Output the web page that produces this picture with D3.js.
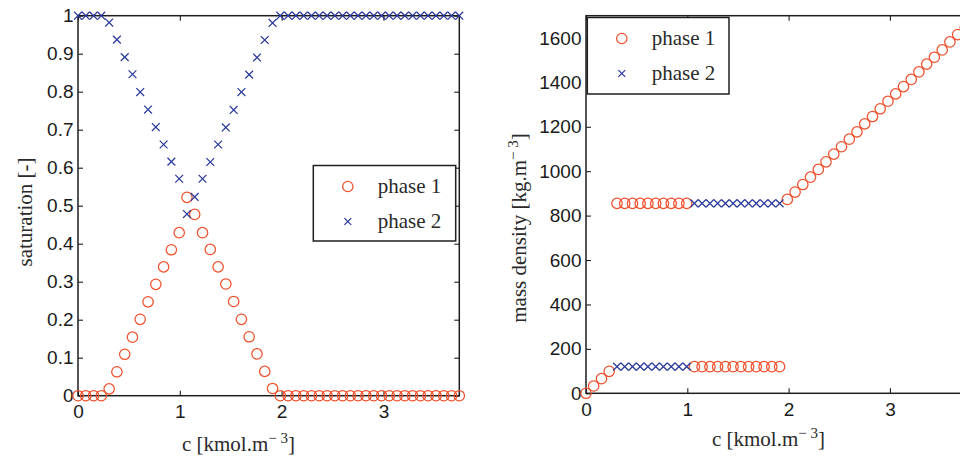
<!DOCTYPE html>
<html><head><meta charset="utf-8">
<script src="https://cdn.jsdelivr.net/npm/d3@7"></script>
<style>
html,body{margin:0;padding:0;background:#fff;}
svg{display:block;}
.tick text{font-family:"Liberation Sans",Arial,sans-serif;font-size:19px;fill:#1a1a1a;}
.lab{font-family:"Liberation Serif","Times New Roman",serif;font-size:21px;fill:#2a2a2a;}
</style></head>
<body>
<svg id="chart" width="960" height="460"></svg>
<script>
// concentration c [kmol.m^-3]
const cValues = [0,0.076,0.153,0.229,0.306,0.382,0.459,0.535,0.611,0.688,0.764,0.841,0.917,0.994,1.070,1.146,1.223,1.299,1.376,1.452,1.529,1.605,1.681,1.758,1.834,1.911,1.987,2.064,2.140,2.216,2.293,2.369,2.446,2.522,2.599,2.675,2.751,2.828,2.904,2.981,3.057,3.134,3.210,3.286,3.363,3.439,3.516,3.592,3.669,3.745];
// saturation [-]
const satPhase1 = [0,0,0,0,0.018,0.063,0.109,0.154,0.201,0.247,0.293,0.339,0.384,0.429,0.522,0.477,0.429,0.385,0.339,0.294,0.248,0.201,0.155,0.110,0.064,0.019,0,0,0,0,0,0,0,0,0,0,0,0,0,0,0,0,0,0,0,0,0,0,0,0];
const satPhase2 = [1,1,1,1,0.982,0.937,0.891,0.846,0.799,0.753,0.707,0.661,0.616,0.571,0.478,0.523,0.571,0.615,0.661,0.706,0.752,0.799,0.845,0.890,0.936,0.981,1,1,1,1,1,1,1,1,1,1,1,1,1,1,1,1,1,1,1,1,1,1,1,1];
// mass density [kg.m^-3]
const rhoPhase1 = [0,33,66,99,855,855,855,855,855,855,855,855,855,855,120,120,120,120,120,120,120,120,120,120,120,120,873,906,940,973,1008,1042,1077,1110,1144,1177,1213,1246,1281,1315,1348,1381,1413,1447,1482,1513,1546,1582,1615,1648];
const rhoPhase2 = [null,null,null,null,120,120,120,120,120,120,120,120,120,120,855,855,855,855,855,855,855,855,855,855,855,855,null,null,null,null,null,null,null,null,null,null,null,null,null,null,null,null,null,null,null,null,null,null,null,null];
const xTicks = [0,1,2,3];
const satTicks = [0,0.1,0.2,0.3,0.4,0.5,0.6,0.7,0.8,0.9,1];
const rhoTicks = [0,200,400,600,800,1000,1200,1400,1600];
const seriesNames = ["phase 1","phase 2"];

const C1 = "#f0502c", C2 = "#2b3a9c", AX = "#1e1e1e";
const svg = d3.select("#chart");
const R = 5.2, cr = 3.9;

function panel(o){
  const g = svg.append("g");
  const x = d3.scaleLinear().domain([0,3.745]).range([o.x0,o.x1]);
  const y = d3.scaleLinear().domain(o.ydom).range([o.yb,o.yt]);
  g.append("g").attr("transform",`translate(0,${o.yb})`)
    .call(d3.axisBottom(x).tickValues(xTicks).tickFormat(d3.format("d")).tickSizeInner(-5).tickSizeOuter(0).tickPadding(9));
  g.append("g").attr("transform",`translate(0,${o.yt})`)
    .call(d3.axisTop(x).tickValues(xTicks).tickFormat("").tickSizeInner(-5).tickSizeOuter(0));
  g.append("g").attr("transform",`translate(${o.x0},0)`)
    .call(d3.axisLeft(y).tickValues(o.yticks).tickFormat(d=>String(d)).tickSizeInner(-5).tickSizeOuter(0).tickPadding(4.5));
  g.append("g").attr("transform",`translate(${o.x1},0)`)
    .call(d3.axisRight(y).tickValues(o.yticks).tickFormat("").tickSizeInner(-5).tickSizeOuter(0));
  g.selectAll(".domain").remove();
  g.selectAll(".tick line").attr("stroke",AX).attr("stroke-width",1.1);
  g.append("rect").attr("x",o.x0).attr("y",o.yt).attr("width",o.x1-o.x0).attr("height",o.yb-o.yt)
    .attr("fill","none").attr("stroke",AX).attr("stroke-width",1.5);
  const idx = d3.range(cValues.length);
  g.append("g").selectAll("circle").data(idx.filter(i=>o.s1[i]!=null)).join("circle")
    .attr("cx",i=>x(cValues[i])).attr("cy",i=>y(o.s1[i])).attr("r",R)
    .attr("fill","none").attr("stroke",C1).attr("stroke-width",1.25);
  g.append("g").selectAll("path").data(idx.filter(i=>o.s2[i]!=null)).join("path")
    .attr("d",i=>{const px=x(cValues[i]),py=y(o.s2[i]);return `M${px-cr},${py-cr}L${px+cr},${py+cr}M${px-cr},${py+cr}L${px+cr},${py-cr}`;})
    .attr("fill","none").attr("stroke",C2).attr("stroke-width",1.25);
  const xl = g.append("text").attr("class","lab").attr("x",o.xlx).attr("y",o.xly).attr("text-anchor","middle");
  xl.append("tspan").text("c [kmol.m");
  xl.append("tspan").attr("dy",-8).attr("font-size",15).text("− 3");
  xl.append("tspan").attr("dy",8).text("]");
  const yl = g.append("text").attr("class","lab").attr("text-anchor","middle")
    .attr("transform",`translate(${o.ylx},${o.yly}) rotate(-90)`);
  yl.append("tspan").text(o.ylab);
  if(o.ysup){
    yl.append("tspan").attr("dy",-8).attr("font-size",15).text("− 3");
    yl.append("tspan").attr("dy",8).text("]");
  }
  const L = o.leg;
  g.append("rect").attr("x",L.x).attr("y",L.y).attr("width",L.w).attr("height",L.h)
    .attr("fill","#fff").attr("stroke",AX).attr("stroke-width",1.5);
  const mx = L.x + 34.5, r1 = L.y + 21, r2 = L.y + 56;
  g.append("circle").attr("cx",mx).attr("cy",r1).attr("r",R).attr("fill","none").attr("stroke",C1).attr("stroke-width",1.25);
  g.append("path").attr("d",`M${mx-cr+0.5},${r2-cr+0.5}L${mx+cr-0.5},${r2+cr-0.5}M${mx-cr+0.5},${r2+cr-0.5}L${mx+cr-0.5},${r2-cr+0.5}`)
    .attr("fill","none").attr("stroke",C2).attr("stroke-width",1.25);
  g.append("text").attr("class","lab").attr("x",mx+30).attr("y",r1+6).text(seriesNames[0]);
  g.append("text").attr("class","lab").attr("x",mx+30).attr("y",r2+6).text(seriesNames[1]);
}

panel({x0:78,x1:459.3,yt:15.7,yb:395.7,ydom:[0,1],yticks:satTicks,s1:satPhase1,s2:satPhase2,
  xlx:238.5,xly:451,ylx:32,yly:212,ylab:"saturation [-]",
  leg:{x:313.3,y:165.5,w:142.4,h:75.5}});
panel({x0:586,x1:965.4,yt:15.7,yb:393.3,ydom:[0,1700],yticks:rhoTicks,s1:rhoPhase1,s2:rhoPhase2,
  xlx:768.5,xly:446,ylx:526,yly:228,ylab:"mass density [kg.m",ysup:true,
  leg:{x:587.3,y:17.5,w:141.7,h:76.5}});
</script>
</body></html>
